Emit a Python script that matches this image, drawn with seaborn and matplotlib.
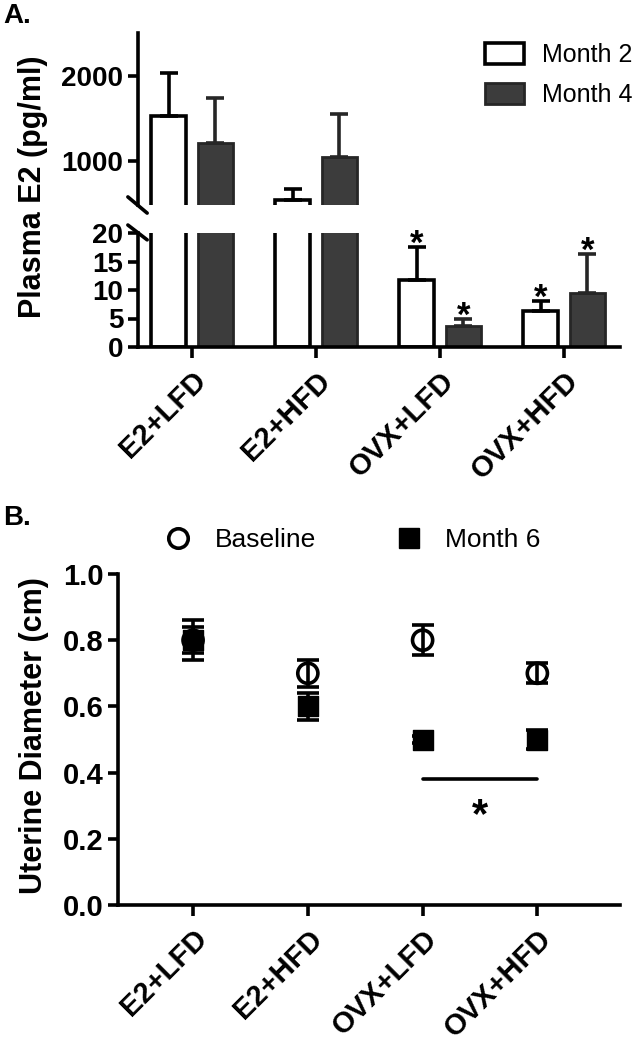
import numpy as np
import pandas as pd
import matplotlib
matplotlib.use("Agg")
import matplotlib.pyplot as plt
from matplotlib.patches import Patch
from matplotlib.lines import Line2D
import seaborn as sns

groups = ["E2+LFD", "E2+HFD", "OVX+LFD", "OVX+HFD"]

# A. plasma E2 (pg/ml): mean and upper error
month2 = [1530, 540, 11.8, 6.3]
month2_err = [500, 130, 5.8, 1.8]
month4 = [1210, 1040, 3.7, 9.5]
month4_err = [525, 510, 1.2, 6.9]
month2_star = [False, False, True, True]
month4_star = [False, False, True, True]

# B. uterine diameter (cm): mean and error
baseline = [0.80, 0.70, 0.80, 0.70]
baseline_err = [0.06, 0.04, 0.045, 0.03]
month6 = [0.80, 0.60, 0.50, 0.50]
month6_err = [0.04, 0.04, 0.01, 0.03]
sig_y = 0.38

dark = "#3c3c3c"
dark_edge = "#262626"

sns.set_style("ticks")
plt.rcParams["font.family"] = ["Liberation Sans", "DejaVu Sans"]
plt.rcParams["font.weight"] = "bold"
for key in ("text.color", "axes.labelcolor", "xtick.color", "ytick.color", "axes.edgecolor"):
    plt.rcParams[key] = "black"

W, H = 634, 1050
fig = plt.figure(figsize=(W / 100, H / 100), dpi=100)


def box(x0, y0, x1, y1):
    return [x0 / W, 1 - y1 / H, (x1 - x0) / W, (y1 - y0) / H]


ax_hi = fig.add_axes(box(138, 33, 620, 205))
ax_lo = fig.add_axes(box(138, 233, 620, 347))
ax_b = fig.add_axes(box(118, 574, 620, 905))

df_a = pd.DataFrame({
    "group": groups * 2,
    "time": ["Month 2"] * 4 + ["Month 4"] * 4,
    "value": month2 + month4,
})

styles = [
    dict(face="white", edge="black", lw=2.6, vals=month2, errs=month2_err, stars=month2_star),
    dict(face=dark, edge=dark_edge, lw=2.0, vals=month4, errs=month4_err, stars=month4_star),
]

for ax in (ax_hi, ax_lo):
    sns.barplot(data=df_a, x="group", y="value", hue="time", palette=["white", dark],
                width=0.75, gap=0.25, saturation=1, errorbar=None, legend=False, ax=ax)
    for cont, st in zip(ax.containers, styles):
        xs = []
        for p in cont:
            p.set_facecolor(st["face"])
            p.set_edgecolor(st["edge"])
            p.set_linewidth(st["lw"])
            xs.append(p.get_x() + p.get_width() / 2)
        ax.errorbar(xs, st["vals"], yerr=[np.zeros(4), st["errs"]], fmt="none",
                    ecolor=st["edge"], elinewidth=2.6, capsize=6.5, capthick=2.6, zorder=1)
        if ax is ax_lo:
            for x, v, e, s in zip(xs, st["vals"], st["errs"], st["stars"]):
                if s:
                    ax.annotate("*", (x, v + e), xytext=(0, -5), textcoords="offset points",
                                ha="center", va="baseline", fontsize=25, fontweight="bold")
    ax.set_xlim(-0.435, 3.45)
    ax.set_xlabel("")
    ax.set_ylabel("")
    for s in ("top", "right"):
        ax.spines[s].set_visible(False)
    for s in ("left", "bottom"):
        ax.spines[s].set_linewidth(2.6)
    ax.tick_params(width=2.6, length=7.5, labelsize=20, pad=3)

ax_hi.set_ylim(480, 2500)
ax_hi.set_yticks([1000, 2000])
ax_hi.spines["bottom"].set_visible(False)
ax_hi.tick_params(axis="x", bottom=False, labelbottom=False)

ax_lo.set_ylim(0, 20)
ax_lo.set_yticks([0, 5, 10, 15, 20])
ax_lo.set_xticks(range(len(groups)))
ax_lo.set_xticklabels(groups, rotation=45, ha="right", rotation_mode="anchor")
ax_lo.tick_params(axis="x", length=8, pad=6, labelsize=21)

# break marks on the y axis
ax_hi.plot([-0.021, 0.019], [0.047, -0.047], transform=ax_hi.transAxes,
           color="black", lw=2.6, clip_on=False)
ax_lo.plot([-0.021, 0.019], [1.07, 0.94], transform=ax_lo.transAxes,
           color="black", lw=2.6, clip_on=False)

fig.text(33 / W, 1 - 187 / H, "Plasma E2 (pg/ml)", rotation=90, ha="center", va="center",
         fontsize=22, fontweight="bold")
fig.text(3 / W, 1 - 3 / H, "A.", ha="left", va="top", fontsize=20, fontweight="bold")

fig.legend(handles=[Patch(facecolor="white", edgecolor="black", lw=2.6),
                    Patch(facecolor=dark, edgecolor=dark_edge, lw=2.0)],
           labels=["Month 2", "Month 4"], loc="upper left",
           bbox_to_anchor=(485 / W, 1 - 43 / H), frameon=False, borderpad=0,
           borderaxespad=0, prop={"size": 18, "weight": "normal"},
           handlelength=1.55, handleheight=0.9, labelspacing=0.65, handletextpad=0.75)

# panel B
ax_b.errorbar(groups, month6, yerr=month6_err, fmt="none", ecolor="black",
              elinewidth=2.6, capsize=8, capthick=2.6, zorder=2)
ax_b.errorbar(groups, baseline, yerr=baseline_err, fmt="none", ecolor="black",
              elinewidth=2.6, capsize=8, capthick=2.6, zorder=2)
sns.scatterplot(x=groups, y=month6, marker="s", s=210, color="black", edgecolor="black",
                linewidth=1, zorder=3, ax=ax_b)
sns.scatterplot(x=groups, y=baseline, marker="o", s=210, color="black", edgecolor="black",
                linewidth=2.6, zorder=4, ax=ax_b)
ax_b.collections[-1].set_facecolor("none")

ax_b.plot([groups[2], groups[3]], [sig_y, sig_y], color="black", lw=2.6)
ax_b.text(2.5, sig_y - 0.145, "*", ha="center", va="baseline", fontsize=30, fontweight="bold")

ax_b.set_xlim(-0.654, 3.72)
ax_b.set_ylim(0, 1.0)
ax_b.set_yticks(np.arange(0, 1.01, 0.2))
ax_b.set_yticklabels([f"{t:.1f}" for t in np.arange(0, 1.01, 0.2)])
ax_b.set_xticks(range(len(groups)))
ax_b.set_xticklabels(groups, rotation=45, ha="right", rotation_mode="anchor")
for s in ("top", "right"):
    ax_b.spines[s].set_visible(False)
for s in ("left", "bottom"):
    ax_b.spines[s].set_linewidth(2.6)
ax_b.tick_params(width=2.6, length=7.5, labelsize=21, pad=3)
ax_b.tick_params(axis="x", length=8, pad=6)

fig.text(34 / W, 1 - 736 / H, "Uterine Diameter (cm)", rotation=90, ha="center", va="center",
         fontsize=22, fontweight="bold")
fig.text(3 / W, 1 - 505 / H, "B.", ha="left", va="top", fontsize=20, fontweight="bold")

fig.legend(handles=[Line2D([], [], marker="o", ls="none", ms=14, mfc="none", mec="black", mew=2.6),
                    Line2D([], [], marker="s", ls="none", ms=14, mfc="black", mec="black")],
           labels=["Baseline", "Month 6"], loc="center left", ncol=2,
           bbox_to_anchor=(162 / W, 1 - 540 / H), frameon=False, borderpad=0,
           borderaxespad=0, prop={"size": 19, "weight": "normal"},
           handlelength=1.25, handletextpad=0.75, columnspacing=2.9)

fig.savefig("out.png", dpi=100)
